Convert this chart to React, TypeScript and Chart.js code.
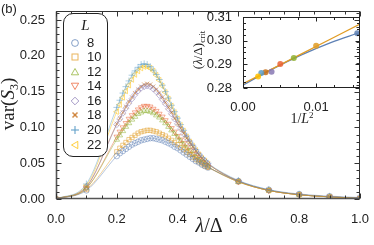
import React, { useEffect, useRef } from "react";
import { Chart, registerables } from "chart.js";
Chart.register(...registerables);

// ---------- main panel data ----------
const lambdas = [0, 0.1,
  0.2, 0.21, 0.22, 0.23, 0.24, 0.25, 0.26, 0.27, 0.28, 0.29, 0.3, 0.31, 0.32, 0.33, 0.34, 0.35,
  0.36, 0.37, 0.38, 0.39, 0.4, 0.41, 0.42, 0.43, 0.44, 0.45, 0.46, 0.47, 0.48, 0.49, 0.5,
  0.6, 0.7, 0.8, 0.9, 1.0];

const var8 = [0, 0.012,
  0.060, 0.064, 0.067, 0.070, 0.073, 0.076, 0.078, 0.080, 0.082, 0.083, 0.084, 0.085, 0.085, 0.084, 0.083, 0.082,
  0.080, 0.078, 0.076, 0.073, 0.071, 0.068, 0.065, 0.062, 0.059, 0.056, 0.053, 0.051, 0.048, 0.046, 0.044,
  0.025, 0.013, 0.007, 0.004, 0.002];
const var10 = [0, 0.013,
  0.066, 0.071, 0.075, 0.079, 0.083, 0.086, 0.089, 0.092, 0.094, 0.095, 0.096, 0.096, 0.095, 0.094, 0.092, 0.090,
  0.088, 0.085, 0.082, 0.079, 0.076, 0.072, 0.069, 0.065, 0.062, 0.058, 0.055, 0.052, 0.049, 0.046, 0.044,
  0.024, 0.012, 0.006, 0.003, 0.001];
const var12 = [0, 0.015,
  0.083, 0.089, 0.095, 0.101, 0.106, 0.111, 0.115, 0.119, 0.121, 0.123, 0.123, 0.122, 0.120, 0.117, 0.114, 0.110,
  0.106, 0.101, 0.096, 0.091, 0.086, 0.081, 0.076, 0.071, 0.067, 0.062, 0.058, 0.054, 0.051, 0.048, 0.045,
  0.024, 0.012, 0.006, 0.003, 0.001];
const var14 = [0, 0.015,
  0.087, 0.094, 0.100, 0.106, 0.112, 0.117, 0.121, 0.125, 0.128, 0.130, 0.130, 0.129, 0.126, 0.123, 0.119, 0.115,
  0.110, 0.105, 0.099, 0.094, 0.088, 0.083, 0.078, 0.073, 0.068, 0.063, 0.059, 0.055, 0.051, 0.048, 0.045,
  0.024, 0.012, 0.006, 0.003, 0.001];
const var16 = [0, 0.017,
  0.104, 0.112, 0.120, 0.127, 0.134, 0.140, 0.146, 0.151, 0.155, 0.157, 0.158, 0.157, 0.154, 0.150, 0.145, 0.139,
  0.133, 0.126, 0.119, 0.112, 0.105, 0.098, 0.091, 0.085, 0.079, 0.073, 0.067, 0.062, 0.057, 0.053, 0.049,
  0.025, 0.012, 0.006, 0.003, 0.001];
const var18 = [0, 0.017,
  0.105, 0.113, 0.121, 0.129, 0.136, 0.142, 0.148, 0.153, 0.157, 0.160, 0.161, 0.160, 0.157, 0.153, 0.148, 0.142,
  0.135, 0.128, 0.121, 0.113, 0.106, 0.099, 0.092, 0.085, 0.079, 0.073, 0.067, 0.062, 0.057, 0.053, 0.049,
  0.025, 0.012, 0.006, 0.003, 0.001];
const var20 = [0, 0.021,
  0.128, 0.138, 0.148, 0.157, 0.165, 0.173, 0.179, 0.184, 0.188, 0.189, 0.188, 0.185, 0.180, 0.174, 0.167, 0.159,
  0.150, 0.141, 0.131, 0.122, 0.113, 0.104, 0.096, 0.088, 0.081, 0.075, 0.069, 0.063, 0.058, 0.054, 0.050,
  0.026, 0.013, 0.006, 0.003, 0.001];
const var22 = [0, 0.019,
  0.122, 0.132, 0.142, 0.151, 0.159, 0.167, 0.174, 0.179, 0.183, 0.185, 0.185, 0.183, 0.179, 0.173, 0.166, 0.158,
  0.149, 0.140, 0.130, 0.121, 0.112, 0.103, 0.095, 0.087, 0.080, 0.074, 0.068, 0.062, 0.057, 0.053, 0.049,
  0.025, 0.012, 0.006, 0.003, 0.001];

const sizesL = [8, 10, 12, 14, 16, 18, 20, 22];
const seriesValues = [var8, var10, var12, var14, var16, var18, var20, var22];
const seriesColors = ["#5E81B5", "#E19C24", "#8FB032", "#EB6235", "#8778B3", "#C56E1A", "#5D9EC7", "#FFBF00"];
const markerKinds = ["circle", "square", "up", "down", "diamond", "x", "plus", "left"];

const xMajorTicks = [0, 0.2, 0.4, 0.6, 0.8, 1.0];
const yMajorTicks = [0, 0.05, 0.1, 0.15, 0.2, 0.25];

// ---------- inset data ----------
const invL2 = [1 / 64, 1 / 100, 1 / 144, 1 / 196, 1 / 256, 1 / 324, 1 / 400, 1 / 484];
const critVals = [0.3031, 0.2979, 0.2927, 0.2901, 0.2869, 0.2867, 0.2863, 0.2849];
const fitX = [0, 0.004, 0.008, 0.012, 0.016];
const fitBlue = [0.2812, 0.2880, 0.2940, 0.2992, 0.3035];
const fitOrange = [0.2818, 0.2881, 0.2944, 0.3007, 0.3070];
const insetXMajorTicks = [0, 0.01];
const insetYMajorTicks = [0.28, 0.29, 0.3, 0.31];

function alpha(hex: string, a: number) {
  const n = parseInt(hex.slice(1), 16);
  return `rgba(${(n >> 16) & 255},${(n >> 8) & 255},${n & 255},${a})`;
}

function chartStyle(kind: string): { style: any; rotation: number; radius: number } {
  switch (kind) {
    case "circle": return { style: "circle", rotation: 0, radius: 2.8 };
    case "square": return { style: "rect", rotation: 0, radius: 3 };
    case "up": return { style: "triangle", rotation: 0, radius: 3.2 };
    case "down": return { style: "triangle", rotation: 180, radius: 3.2 };
    case "diamond": return { style: "rectRot", rotation: 0, radius: 3.1 };
    case "x": return { style: "crossRot", rotation: 0, radius: 3 };
    case "plus": return { style: "cross", rotation: 0, radius: 3.4 };
    default: return { style: "triangle", rotation: -90, radius: 3.2 };
  }
}

function minorTicks(min: number, max: number, step: number) {
  const out: number[] = [];
  const n = Math.round((max - min) / step);
  for (let i = 0; i <= n; i++) out.push(min + i * step);
  return out;
}

const framePlugin = {
  id: "frameTicks",
  afterDraw(chart: any, _args: any, opts: any) {
    const { ctx, chartArea: a, scales } = chart;
    const xs = scales.x, ys = scales.y;
    ctx.save();
    ctx.strokeStyle = opts.color || "#333";
    ctx.lineWidth = 1;
    const line = (x1: number, y1: number, x2: number, y2: number) => {
      ctx.beginPath(); ctx.moveTo(x1, y1); ctx.lineTo(x2, y2); ctx.stroke();
    };
    const L = Math.round(a.left) + 0.5, R = Math.round(a.right) - 0.5;
    const T = Math.round(a.top) + 0.5, B = Math.round(a.bottom) - 0.5;
    ctx.strokeRect(L, T, R - L, B - T);
    if (opts.heavy) {
      ctx.lineWidth = 1.6;
      ctx.strokeStyle = "#555";
      line(L, T, L, B + 0.5);
      line(L - 0.5, B, R, B);
      ctx.lineWidth = 1;
      ctx.strokeStyle = opts.color || "#333";
    }
    const xMaj = opts.xMajor || [], yMaj = opts.yMajor || [];
    const xMin = opts.xMinor || [], yMin = opts.yMinor || [];
    const big = opts.major || 5, small = opts.minor || 3;
    const near = (v: number, arr: number[]) => arr.some((m) => Math.abs(m - v) < 1e-9);
    const drawX = (v: number, len: number) => {
      const px = Math.round(xs.getPixelForValue(v)) + 0.5;
      line(px, B, px, B - len);
      line(px, T, px, T + len);
    };
    const drawY = (v: number, len: number) => {
      const py = Math.round(ys.getPixelForValue(v)) + 0.5;
      line(L, py, L + len, py);
      line(R, py, R - len, py);
    };
    xMaj.forEach((v: number) => drawX(v, big));
    yMaj.forEach((v: number) => drawY(v, big));
    xMin.forEach((v: number) => { if (!near(v, xMaj)) drawX(v, small); });
    yMin.forEach((v: number) => { if (!near(v, yMaj)) drawY(v, small); });
    ctx.restore();
  },
};

function Marker({ kind, color }: { kind: string; color: string }) {
  const c = alpha(color, 0.75);
  const common = { fill: "none", stroke: c, strokeWidth: 1 } as any;
  let shape: any;
  switch (kind) {
    case "circle": shape = <circle cx={5} cy={5} r={3.4} {...common} />; break;
    case "square": shape = <rect x={2} y={2} width={6} height={6} {...common} />; break;
    case "up": shape = <polygon points="5,1.5 8.6,7.8 1.4,7.8" {...common} />; break;
    case "down": shape = <polygon points="5,8.5 8.6,2.2 1.4,2.2" {...common} />; break;
    case "diamond": shape = <polygon points="5,1.2 8.8,5 5,8.8 1.2,5" {...common} />; break;
    case "x": shape = <g {...common} strokeWidth={1.6}><line x1={2.5} y1={2.5} x2={7.5} y2={7.5} /><line x1={7.5} y1={2.5} x2={2.5} y2={7.5} /></g>; break;
    case "plus": shape = <g {...common} strokeWidth={1.4}><line x1={5} y1={1} x2={5} y2={9} /><line x1={1} y1={5} x2={9} y2={5} /></g>; break;
    default: shape = <polygon points="1.5,5 7.8,1.4 7.8,8.6" {...common} />;
  }
  return <svg width={10} height={10} style={{ display: "block" }}>{shape}</svg>;
}

export default function App() {
  const mainRef = useRef<HTMLCanvasElement>(null);
  const insetRef = useRef<HTMLCanvasElement>(null);

  useEffect(() => {
    const tickFont = { family: "'Liberation Sans', Arial, sans-serif", size: 13 };
    const main = new Chart(mainRef.current!, {
      type: "scatter",
      data: {
        datasets: seriesValues.map((vals, i) => {
          const ms = chartStyle(markerKinds[i]);
          return {
            label: String(sizesL[i]),
            data: lambdas.map((x, j) => ({ x, y: vals[j] })),
            showLine: true,
            borderColor: alpha(seriesColors[i], 0.5),
            borderWidth: 0.9,
            cubicInterpolationMode: "monotone",
            pointStyle: ms.style,
            rotation: ms.rotation,
            pointRotation: ms.rotation,
            pointRadius: ms.radius,
            pointBorderWidth: 0.85,
            pointBorderColor: alpha(seriesColors[i], 0.6),
            pointBackgroundColor: "rgba(0,0,0,0)",
            fill: false,
          } as any;
        }),
      },
      options: {
        animation: false,
        responsive: false,
        devicePixelRatio: 1,
        layout: { padding: { top: 1, right: 9, left: 0, bottom: 0 } },
        plugins: {
          legend: { display: false },
          tooltip: { enabled: false },
          frameTicks: {
            heavy: true,
            color: "#333",
            xMajor: xMajorTicks,
            yMajor: yMajorTicks,
            xMinor: minorTicks(0, 1, 0.05),
            yMinor: minorTicks(0, 0.26, 0.01),
            major: 5,
            minor: 3,
          },
        } as any,
        scales: {
          x: {
            type: "linear",
            min: 0,
            max: 1,
            afterBuildTicks: (s: any) => { s.ticks = xMajorTicks.map((v) => ({ value: v })); },
            afterFit: (s: any) => { s.height = 46; },
            grid: { display: false },
            border: { display: false },
            ticks: { font: tickFont, color: "#222", padding: 5, maxRotation: 0, callback: (v: any) => Number(v).toFixed(1) },
          },
          y: {
            type: "linear",
            min: 0,
            max: 0.263,
            afterBuildTicks: (s: any) => { s.ticks = yMajorTicks.map((v) => ({ value: v })); },
            afterFit: (s: any) => { s.width = 56; },
            grid: { display: false },
            border: { display: false },
            ticks: { font: tickFont, color: "#222", padding: 3, callback: (v: any) => Number(v).toFixed(2) },
          },
        },
      },
      plugins: [framePlugin],
    });

    const inset = new Chart(insetRef.current!, {
      type: "scatter",
      data: {
        datasets: [
          {
            label: "points",
            data: invL2.map((x, j) => ({ x, y: critVals[j] })),
            pointRadius: 3,
            pointBorderWidth: 0,
            pointBackgroundColor: seriesColors.map((c) => alpha(c, 0.85)),
            showLine: false,
          } as any,
          {
            label: "fit1",
            data: fitX.map((x, j) => ({ x, y: fitOrange[j] })),
            showLine: true,
            pointRadius: 0,
            borderColor: "#E19C24",
            borderWidth: 1.3,
          },
          {
            label: "fit2",
            data: fitX.map((x, j) => ({ x, y: fitBlue[j] })),
            showLine: true,
            pointRadius: 0,
            borderColor: "#5E81B5",
            borderWidth: 1.3,
            tension: 0.4,
          },
        ],
      },
      options: {
        animation: false,
        responsive: false,
        devicePixelRatio: 1,
        layout: { padding: { top: 17, right: 10, left: 0, bottom: 0 } },
        plugins: {
          legend: { display: false },
          tooltip: { enabled: false },
          frameTicks: {
            heavy: false,
            color: "#222",
            xMajor: insetXMajorTicks,
            yMajor: insetYMajorTicks,
            xMinor: minorTicks(0, 0.016, 0.0025),
            yMinor: minorTicks(0.28, 0.31, 0.0025),
            major: 4,
            minor: 2.5,
          },
        } as any,
        scales: {
          x: {
            type: "linear",
            min: 0,
            max: 0.016,
            afterBuildTicks: (s: any) => { s.ticks = insetXMajorTicks.map((v) => ({ value: v })); },
            afterFit: (s: any) => { s.height = 37; },
            grid: { display: false },
            border: { display: false },
            ticks: { font: tickFont, color: "#222", padding: 4, maxRotation: 0, callback: (v: any) => Number(v).toFixed(2) },
          },
          y: {
            type: "linear",
            min: 0.28,
            max: 0.31,
            afterBuildTicks: (s: any) => { s.ticks = insetYMajorTicks.map((v) => ({ value: v })); },
            afterFit: (s: any) => { s.width = 58; },
            grid: { display: false },
            border: { display: false },
            ticks: { font: tickFont, color: "#222", padding: 3, callback: (v: any) => Number(v).toFixed(2) },
          },
        },
      },
      plugins: [framePlugin],
    });

    return () => { main.destroy(); inset.destroy(); };
  }, []);

  const serif = "'Liberation Serif', 'Times New Roman', serif";
  const sans = "'Liberation Sans', Arial, sans-serif";
  const legendRows = [29.7, 44.3, 58.7, 73, 87.5, 102, 116.7, 131.5];

  return (
    <div style={{ position: "absolute", left: 0, top: 0, width: 374, height: 245, background: "#fff", overflow: "hidden" }}>
      <canvas ref={mainRef} width={374} height={245} style={{ position: "absolute", left: 0, top: 0, width: 374, height: 245 }} />
      <canvas ref={insetRef} width={185} height={125} style={{ position: "absolute", left: 185, top: 0, width: 185, height: 125 }} />

      <div style={{ position: "absolute", left: 1, top: 1, fontFamily: sans, fontSize: 13, color: "#222", lineHeight: "16px" }}>(b)</div>

      <div style={{ position: "absolute", left: 11, top: 104, transform: "translate(-50%,-50%) rotate(-90deg)", whiteSpace: "nowrap", fontFamily: serif, fontSize: 19, color: "#222", lineHeight: "20px" }}>
        var(<i>S</i><sub style={{ fontSize: 12, verticalAlign: "-4px" }}>3</sub>)
      </div>

      <div style={{ position: "absolute", left: 209, top: 225, transform: "translate(-50%,-50%)", whiteSpace: "nowrap", fontFamily: serif, fontSize: 20, color: "#222", lineHeight: "20px" }}>
        <i>λ</i>/Δ
      </div>

      <div style={{ position: "absolute", left: 200, top: 50, transform: "translate(-50%,-50%) rotate(-90deg)", whiteSpace: "nowrap", fontFamily: serif, fontSize: 13, color: "#222", lineHeight: "14px" }}>
        (<i>λ</i>/Δ)<sub style={{ fontSize: 9, verticalAlign: "-3px" }}>crit</sub>
      </div>

      <div style={{ position: "absolute", left: 302, top: 117, transform: "translate(-50%,-50%)", whiteSpace: "nowrap", fontFamily: serif, fontSize: 14, color: "#222", lineHeight: "14px" }}>
        1/<i>L</i><sup style={{ fontSize: 9, verticalAlign: "5px" }}>2</sup>
      </div>

      <div style={{ position: "absolute", left: 63, top: 13, width: 45, height: 144, boxSizing: "border-box", border: "1px solid #222", borderRadius: 10, background: "#fff" }}>
        <div style={{ position: "absolute", left: 0, width: 43, top: 3, textAlign: "center", fontFamily: serif, fontStyle: "italic", fontSize: 15, color: "#222", lineHeight: "16px" }}>L</div>
        {sizesL.map((L, i) => (
          <React.Fragment key={L}>
            <div style={{ position: "absolute", left: 6, top: legendRows[i] - 5 - 1 }}>
              <Marker kind={markerKinds[i]} color={seriesColors[i]} />
            </div>
            <div style={{ position: "absolute", left: 23, top: legendRows[i] - 8 - 1, fontFamily: sans, fontSize: 13, color: "#222", lineHeight: "16px" }}>{L}</div>
          </React.Fragment>
        ))}
      </div>
    </div>
  );
}
